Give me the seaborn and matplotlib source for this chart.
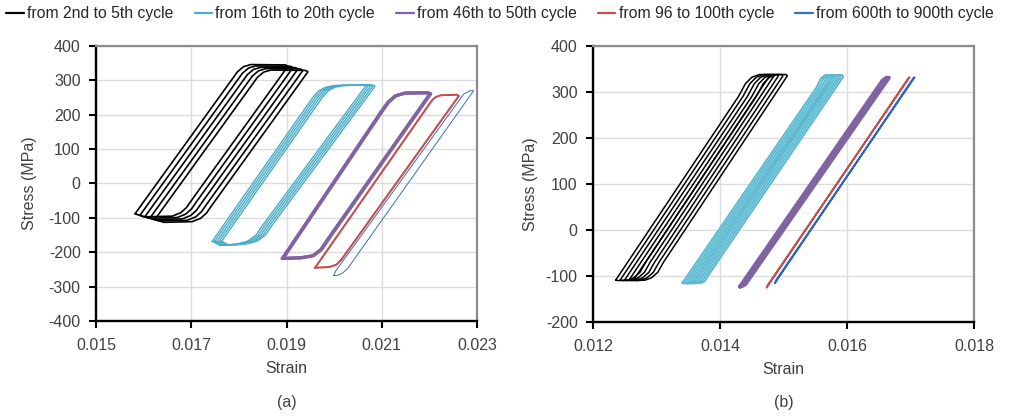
import numpy as np
import pandas as pd
import matplotlib
matplotlib.use("Agg")
import matplotlib.pyplot as plt
from matplotlib.lines import Line2D
import seaborn as sns

# ---------------- legend / series ----------------
LEGEND_LABELS = ["from 2nd to 5th cycle", "from 16th to 20th cycle",
                 "from 46th to 50th cycle", "from 96 to 100th cycle",
                 "from 600th to 900th cycle"]
GROUPS = ["c2_5", "c16_20", "c46_50", "c96_100", "c600_900"]
COLORS = ["#000000", "#4BACC6", "#8064A2", "#C0504D", "#3B6CC0"]

# ---------------- panel (a): one loop outline per group + per-cycle shifts ----------------
A_C2_5_STRAIN = [0.01582, 0.01783, 0.01797, 0.01810, 0.01825, 0.01898, 0.01903, 0.01700, 0.01690, 0.01678, 0.01660, 0.01600, 0.01582]
A_C2_5_STRESS = [-88, 298, 325, 340, 346, 345, 341, -50, -70, -85, -95, -97, -88]
A_C2_5_SHIFT_STRAIN = [0.0, 0.000105, 0.00021, 0.000315, 0.00042]
A_C2_5_SHIFT_STRESS = [0, -4, -8, -12, -16]

A_C16_20_STRAIN = [0.01744, 0.01955, 0.01968, 0.01982, 0.02000, 0.02060, 0.02066, 0.01848, 0.01836, 0.01818, 0.01795, 0.01760, 0.01744]
A_C16_20_STRESS = [-168, 250, 270, 280, 285, 287, 283, -125, -150, -168, -176, -180, -168]
A_C16_20_SHIFT_STRAIN = [0.0, 0.00005, 0.0001, 0.00015, 0.0002]
A_C16_20_SHIFT_STRESS = [0, 0, 0, 0, 0]

A_C46_50_STRAIN = [0.01891, 0.02100, 0.02113, 0.02128, 0.02148, 0.02195, 0.02201, 0.01985, 0.01972, 0.01955, 0.01930, 0.01895, 0.01891]
A_C46_50_STRESS = [-218, 212, 237, 255, 263, 264, 261, -165, -192, -210, -216, -218, -218]
A_C46_50_SHIFT_STRAIN = [0.0, 0.00001, 0.00002]
A_C46_50_SHIFT_STRESS = [0, 0, 0]

A_C96_100_STRAIN = [0.01960, 0.02206, 0.02214, 0.02225, 0.02258, 0.02262, 0.02015, 0.02005, 0.01990, 0.01962, 0.01960]
A_C96_100_STRESS = [-245, 243, 252, 257, 258, 255, -222, -236, -243, -245, -245]
A_C96_100_SHIFT_STRAIN = [0.0]
A_C96_100_SHIFT_STRESS = [0]

A_C600_900_STRAIN = [0.01999, 0.02008, 0.02018, 0.02028, 0.02293, 0.02285, 0.02272, 0.02003, 0.01999]
A_C600_900_STRESS = [-268, -267, -260, -248, 270, 270, 260, -255, -268]
A_C600_900_SHIFT_STRAIN = [0.0]
A_C600_900_SHIFT_STRESS = [0]

# ---------------- panel (b) ----------------
B_C2_5_STRAIN = [0.012357, 0.014290, 0.014400, 0.014500, 0.014620, 0.014760, 0.014780, 0.012830, 0.012740, 0.012640, 0.012540, 0.012400, 0.012357]
B_C2_5_STRESS = [-109, 290, 318, 332, 338, 338, 335, -70, -92, -104, -109, -110, -109]
B_C2_5_SHIFT_STRAIN = [0.0, 0.00007, 0.00014, 0.00021, 0.00028]
B_C2_5_SHIFT_STRESS = [0, 0, 0, 0, 0]

B_C16_20_STRAIN = [0.013407, 0.015520, 0.015590, 0.015660, 0.015760, 0.015780, 0.013650, 0.013600, 0.013550, 0.013420, 0.013407]
B_C16_20_STRESS = [-115, 310, 330, 337, 337, 333, -100, -111, -115, -116, -115]
B_C16_20_SHIFT_STRAIN = [0.0, 0.00004, 0.00008, 0.00012, 0.00016]
B_C16_20_SHIFT_STRESS = [0, 0, 0, 0, 0]

B_C46_50_STRAIN = [0.014315, 0.016560, 0.016620, 0.016660, 0.014400, 0.014330, 0.014315]
B_C46_50_STRESS = [-123, 325, 331, 331, -118, -123, -123]
B_C46_50_SHIFT_STRAIN = [0.0]
B_C46_50_SHIFT_STRESS = [0]

B_C96_100_STRAIN = [0.014736, 0.016975, 0.016985, 0.014750, 0.014736]
B_C96_100_STRESS = [-125, 332, 332, -120, -125]
B_C96_100_SHIFT_STRAIN = [0.0]
B_C96_100_SHIFT_STRESS = [0]

B_C600_900_STRAIN = [0.014867, 0.017055, 0.017065, 0.014880, 0.014867]
B_C600_900_STRESS = [-115, 332, 332, -110, -115]
B_C600_900_SHIFT_STRAIN = [0.0]
B_C600_900_SHIFT_STRESS = [0]

# ---------------- axes ----------------
A_XTICKS = [0.015, 0.017, 0.019, 0.021, 0.023]
A_XTICKLABELS = ["0.015", "0.017", "0.019", "0.021", "0.023"]
A_YTICKS = [-400, -300, -200, -100, 0, 100, 200, 300, 400]
B_XTICKS = [0.012, 0.014, 0.016, 0.018]
B_XTICKLABELS = ["0.012", "0.014", "0.016", "0.018"]
B_YTICKS = [-200, -100, 0, 100, 200, 300, 400]

A_LW = [1.2, 1.0, 2.2, 1.5, 0.7]
B_LW = [1.1, 1.4, 2.8, 1.3, 1.3]
B_COLORS = ["#000000", "#5BBAD2", "#8064A2", "#C0504D", "#2E64C0"]

PANEL_A = {
    "c2_5": (A_C2_5_STRAIN, A_C2_5_STRESS, A_C2_5_SHIFT_STRAIN, A_C2_5_SHIFT_STRESS),
    "c16_20": (A_C16_20_STRAIN, A_C16_20_STRESS, A_C16_20_SHIFT_STRAIN, A_C16_20_SHIFT_STRESS),
    "c46_50": (A_C46_50_STRAIN, A_C46_50_STRESS, A_C46_50_SHIFT_STRAIN, A_C46_50_SHIFT_STRESS),
    "c96_100": (A_C96_100_STRAIN, A_C96_100_STRESS, A_C96_100_SHIFT_STRAIN, A_C96_100_SHIFT_STRESS),
    "c600_900": (A_C600_900_STRAIN, A_C600_900_STRESS, A_C600_900_SHIFT_STRAIN, A_C600_900_SHIFT_STRESS),
}
PANEL_B = {
    "c2_5": (B_C2_5_STRAIN, B_C2_5_STRESS, B_C2_5_SHIFT_STRAIN, B_C2_5_SHIFT_STRESS),
    "c16_20": (B_C16_20_STRAIN, B_C16_20_STRESS, B_C16_20_SHIFT_STRAIN, B_C16_20_SHIFT_STRESS),
    "c46_50": (B_C46_50_STRAIN, B_C46_50_STRESS, B_C46_50_SHIFT_STRAIN, B_C46_50_SHIFT_STRESS),
    "c96_100": (B_C96_100_STRAIN, B_C96_100_STRESS, B_C96_100_SHIFT_STRAIN, B_C96_100_SHIFT_STRESS),
    "c600_900": (B_C600_900_STRAIN, B_C600_900_STRESS, B_C600_900_SHIFT_STRAIN, B_C600_900_SHIFT_STRESS),
}


def build_frame(panel):
    rows = []
    for g, (s, t, ds, dt) in panel.items():
        s = np.asarray(s, float)
        t = np.asarray(t, float)
        for k, (a, b) in enumerate(zip(ds, dt)):
            for i in range(len(s)):
                rows.append((g, k, i, s[i] + a, t[i] + b))
    return pd.DataFrame(rows, columns=["group", "loop", "order", "strain", "stress"])


sns.set_style("white")
plt.rcParams["font.family"] = ["Liberation Sans", "DejaVu Sans"]
TXT = "#404040"

fig = plt.figure(figsize=(10.1, 4.2), dpi=100)
ax_a = fig.add_axes([96 / 1010, 1 - 321 / 420, 381 / 1010, 275 / 420])
ax_b = fig.add_axes([593 / 1010, 1 - 322 / 420, 381 / 1010, 276 / 420])


def draw_panel(ax, panel, lws, colors, xticks, xlabels, yticks, ylabelpad):
    df = build_frame(panel)
    for g, c, lw in zip(GROUPS, colors, lws):
        sub = df[df["group"] == g]
        sns.lineplot(data=sub, x="strain", y="stress", units="loop", estimator=None,
                     sort=False, color=c, linewidth=lw, legend=False, ax=ax)
    ax.set_xlim(xticks[0], xticks[-1])
    ax.set_ylim(yticks[0], yticks[-1])
    ax.set_xticks(xticks)
    ax.set_xticklabels(xlabels)
    ax.set_yticks(yticks)
    ax.set_yticklabels([str(v) for v in yticks])
    ax.grid(True, color="#DCDCDC", linewidth=1.0)
    ax.set_axisbelow(True)
    for side in ["left", "bottom"]:
        ax.spines[side].set_color("black")
        ax.spines[side].set_linewidth(1.7)
    for side in ["top", "right"]:
        ax.spines[side].set_visible(True)
        ax.spines[side].set_color("#8C8C8C")
        ax.spines[side].set_linewidth(1.6)
    ax.tick_params(axis="x", direction="out", length=5, width=1.5, color="black",
                   labelsize=11.5, labelcolor=TXT, pad=7, bottom=True)
    ax.tick_params(axis="y", direction="out", length=5, width=1.5, color="black",
                   labelsize=11.5, labelcolor=TXT, pad=6, left=True)
    ax.set_xlabel("Strain", fontsize=11.5, color=TXT, labelpad=6)
    ax.set_ylabel("Stress (MPa)", fontsize=11.5, color=TXT, labelpad=ylabelpad)


draw_panel(ax_a, PANEL_A, A_LW, COLORS, A_XTICKS, A_XTICKLABELS, A_YTICKS, 8.5)
draw_panel(ax_b, PANEL_B, B_LW, B_COLORS, B_XTICKS, B_XTICKLABELS, B_YTICKS, 5.5)

fig.text(287 / 1010, 1 - 403 / 420, "(a)", ha="center", va="center", fontsize=11.5, color=TXT)
fig.text(784 / 1010, 1 - 403 / 420, "(b)", ha="center", va="center", fontsize=11.5, color=TXT)

handles = [Line2D([0], [0], color=c, lw=1.6) for c in COLORS]
fig.legend(handles, LEGEND_LABELS, loc="upper left", bbox_to_anchor=(0.0, 1.0), ncol=5,
           frameon=False, handlelength=1.12, handletextpad=0.2, columnspacing=1.35,
           borderaxespad=0.2, borderpad=0.2, fontsize=11.3, labelcolor="#262626")

fig.savefig("out.png", dpi=100)
